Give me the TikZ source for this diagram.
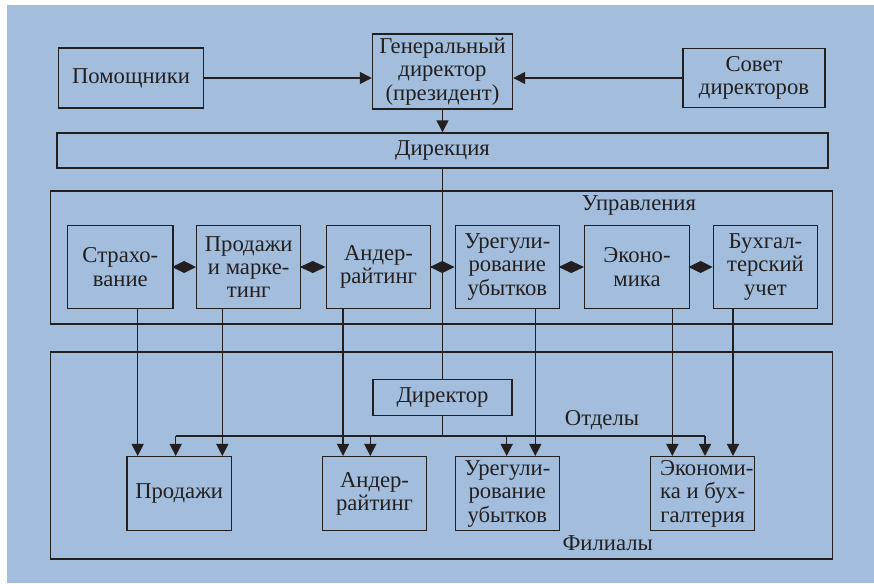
\documentclass[tikz,border=0pt]{standalone}
\usepackage{fontspec}
\setmainfont{Liberation Serif}
\usetikzlibrary{arrows.meta}
\definecolor{bgblue}{RGB}{163,190,220}
\definecolor{ink}{RGB}{35,31,32}
\begin{document}
\begin{tikzpicture}[x=0.75pt,y=-0.75pt,
  txt/.style={font=\fontsize{17}{17.5}\selectfont, text=ink},
  box/.style={txt, draw=ink, line width=1.1pt, inner sep=0pt, align=center},
  frame/.style={draw=ink, line width=1.1pt, inner sep=0pt},
  conn/.style={draw=ink, line width=1.1pt},
  arr/.style={conn, -{Triangle[length=9pt,width=9pt]}},
  dia/.style={conn, fill=ink, -{Diamond[length=#1,width=9pt]}},
  lbl/.style={txt, anchor=base, inner sep=0pt}]
\useasboundingbox (0,0) rectangle (874,583);
\fill[bgblue] (7,5) rectangle (874,583);

% top row
\node[box, minimum width=108.75pt, minimum height=45pt] (pom) at (131,78) {Помощники};
\node[box, minimum width=105pt, minimum height=56.25pt] (gen) at (442.5,71.5) {Генеральный\\директор\\(президент)};
\node[box, minimum width=106.5pt, minimum height=44.25pt] (sov) at (754,78) {Совет\\директоров};
\node[box, minimum width=578.25pt, minimum height=26.25pt] (dir) at (442.5,150.5) {Дирекция};

% Управления frame
\node[frame, minimum width=586.2pt, minimum height=99.75pt] (upr) at (441.5,257.5) {};
\node[lbl] (lupr) at (639,210) {Управления};
\node[box, minimum width=79pt, minimum height=62.55pt] (str) at (120.35,267) {Страхо-\\вание};
\node[box, minimum width=78pt, minimum height=62.55pt] (prod) at (248.7,267) {Продажи\\и марке-\\тинг};
\node[box, minimum width=78.3pt, minimum height=62.55pt] (und) at (378.5,267) {Андер-\\райтинг};
\node[box, minimum width=78pt, minimum height=62.55pt] (ureg) at (507.3,267) {Урегули-\\рование\\убытков};
\node[box, minimum width=78.45pt, minimum height=62.55pt] (eko) at (637,267) {Эконо-\\мика};
\node[box, minimum width=78.3pt, minimum height=62.55pt] (buh) at (765.5,267) {Бухгал-\\терский\\учет};

% Филиалы frame
\node[frame, minimum width=586.2pt, minimum height=155.25pt] (fil) at (441.5,455.5) {};
\node[lbl] (lfil) at (607.7,550) {Филиалы};
\node[lbl] (lotd) at (602,425) {Отделы};
\node[box, minimum width=104.25pt, minimum height=27pt] (drk) at (442.5,397.7) {Директор};
\node[box, minimum width=78.2pt, minimum height=55.5pt] (prd2) at (179.15,493.7) {Продажи};
\node[box, minimum width=78.3pt, minimum height=55.5pt] (und2) at (374.5,493.7) {Андер-\\райтинг};
\node[box, minimum width=78pt, minimum height=55.5pt] (ureg2) at (507.3,493.7) {Урегули-\\рование\\убытков};
\node[box, minimum width=78pt, minimum height=55.5pt] (eko2) at (702.7,493.7) {\hspace*{6pt}Экономи-\\ка и бух-\\галтерия};

% top connectors
\draw[arr] (pom.east) -- (gen.west |- pom.east);
\draw[arr] (sov.west) -- (gen.east |- sov.west);
\draw[arr] (gen.south) -- (dir.north);
\draw[conn] (dir.south) -- (drk.north);

% diamonds
\draw[dia=17.8pt] (str.east) -- (prod.west);
\draw[dia=19.2pt] (prod.east) -- (und.west);
\draw[dia=18.45pt] (und.east) -- (ureg.west);
\draw[dia=19.05pt] (ureg.east) -- (eko.west);
\draw[dia=18pt] (eko.east) -- (buh.west);

% down connectors from Управления
\draw[arr] ([xshift=13pt]str.south) -- ([xshift=13pt]str.south |- prd2.north);
\draw[arr] ([xshift=-19.8pt]prod.south) -- ([xshift=-19.8pt]prod.south |- prd2.north);
\draw[arr] ([xshift=-26.6pt]und.south) -- ([xshift=-26.6pt]und.south |- und2.north);
\draw[arr] ([xshift=21pt]ureg.south) -- ([xshift=21pt]ureg.south |- ureg2.north);
\draw[arr] ([xshift=26.5pt]eko.south) -- ([xshift=26.5pt]eko.south |- eko2.north);
\draw[arr] ([xshift=-24.4pt]buh.south) -- ([xshift=-24.4pt]buh.south |- eko2.north);

% Директор branch
\coordinate (hb) at (442.5,436);
\coordinate (b1) at (175.7,436);
\coordinate (b2) at (370.3,436);
\coordinate (b3) at (506.7,436);
\coordinate (b4) at (705,436);
\draw[conn] (drk.south) -- (hb);
\draw[conn] (b1) -- (b4);
\draw[arr] (b1) -- (b1 |- prd2.north);
\draw[arr] (b2) -- (b2 |- und2.north);
\draw[arr] (b3) -- (b3 |- ureg2.north);
\draw[arr] (b4) -- (b4 |- eko2.north);
\end{tikzpicture}
\end{document}
